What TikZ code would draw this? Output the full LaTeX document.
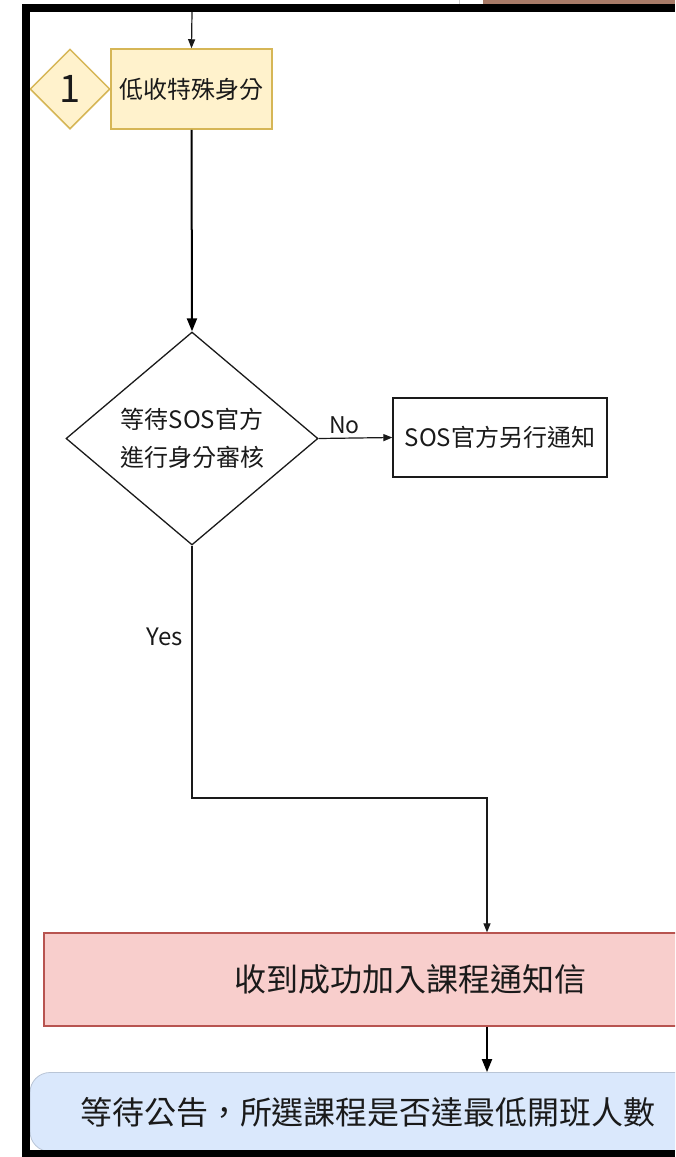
\documentclass[tikz,border=0pt]{standalone}
\usepackage{fontspec}
\setmainfont{Noto Sans CJK TC}
\usetikzlibrary{shapes.geometric,arrows.meta}
\definecolor{lemon}{HTML}{FFF2CC}
\definecolor{mustard}{HTML}{D6B656}
\definecolor{blush}{HTML}{F8CECC}
\definecolor{brick}{HTML}{B85450}
\definecolor{skyblue}{HTML}{DAE8FC}
\definecolor{ink}{HTML}{1A1A1A}
\definecolor{rust}{HTML}{A87B68}

\begin{document}
\begin{tikzpicture}[x=1pt, y=-1pt,
    thin arrow/.style={-{Triangle[length=9pt,width=7pt]}, line width=1.2pt, draw=ink},
    thick arrow/.style={-{Triangle[length=13pt,width=10pt]}, line width=2pt, draw=black}]
      \useasboundingbox (0,0) rectangle (675,1157);
      \clip (0,0) rectangle (675,1157);

      % bits of the next page peeking in at the top
      \fill[rust] (483,0) rectangle (675,4);
      \draw[gray!40, line width=0.8pt] (459,0) -- (459,5);

      \node[diamond, fill=lemon, draw=mustard, line width=1.5pt, minimum width=80pt, minimum height=80pt, inner sep=0pt, text=ink, font=\fontsize{38}{38}\selectfont] (mark) at (70, 89) {1};
      \node[rectangle, fill=lemon, draw=mustard, line width=1.5pt, minimum width=161pt, minimum height=80pt, text=ink, font=\fontsize{24}{28}\selectfont] (lowinc) at (191.5, 89) {低收特殊身分};
      \node[diamond, draw=ink, line width=1.3pt, minimum width=252pt, minimum height=213pt, inner sep=0pt, aspect=1.18, align=center, text=ink, font=\fontsize{24}{38}\selectfont] (check) at (192, 438.5) {等待SOS官方\\進行身分審核};
      \node[rectangle, draw=ink, line width=1.3pt, minimum width=214pt, minimum height=79pt, text=ink, font=\fontsize{24}{28}\selectfont] (notify) at (500, 437.5) {SOS官方另行通知};
      \node[rectangle, fill=blush, draw=brick, line width=1.3pt, minimum width=732pt, minimum height=93pt, text=ink, font=\fontsize{32}{36}\selectfont] (joined) at (410, 979.5) {收到成功加入課程通知信};
      \node[rectangle, rounded corners=20pt, fill=skyblue, draw=skyblue!85!black, line width=0.8pt, minimum width=676pt, minimum height=79pt, text=ink, font=\fontsize{32}{36}\selectfont] (wait) at (368, 1112) {等待公告，所選課程是否達最低開班人數};

      \coordinate (entry) at (192, 12);
      \coordinate (turn) at (487, 798);

      \draw[thin arrow] (entry) -- (lowinc.north);
      \draw[thick arrow] (lowinc.south) -- (check.north);
      \draw[thin arrow] (check.east) -- (notify.west) node[pos=0.35, above, text=ink, font=\fontsize{23}{26}\selectfont] {No};
      \draw[thin arrow] (check.south) |- node[pos=0.18, left=5pt, text=ink, font=\fontsize{24}{28}\selectfont] {Yes} (turn) -- (turn |- joined.north);
      \draw[thick arrow] (turn |- joined.south) -- (turn |- wait.north);

      % frame
      \draw[line width=8pt] (26, 1157) -- (26, 8) -- (675, 8);
      \draw[line width=7pt] (22, 1153.5) -- (675, 1153.5);
    \end{tikzpicture}
\end{document}
